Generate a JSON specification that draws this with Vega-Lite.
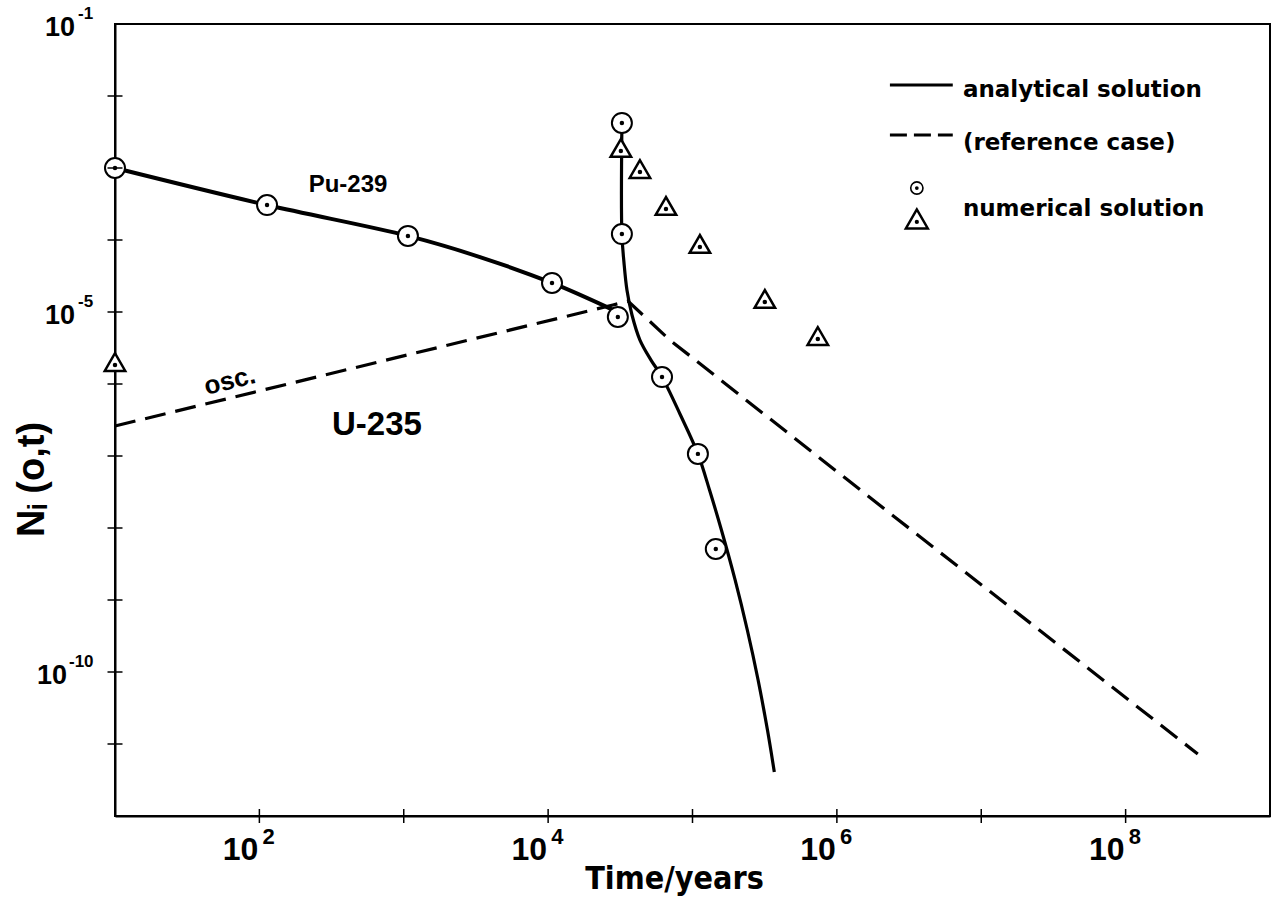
{
  "$schema": "https://vega.github.io/schema/vega-lite/v6.json",
  "width": 1155,
  "height": 792,
  "autosize": {"type": "none"},
  "padding": {"left": 115, "top": 24, "right": 10, "bottom": 83},
  "background": "white",
  "config": {
    "view": {"stroke": "black", "strokeWidth": 2},
    "font": "Liberation Sans",
    "axisX": {
      "labels": false, "ticks": false, "grid": false,
      "domainColor": "black", "domainWidth": 2, "zindex": 1,
      "titleFont": "Liberation Sans Narrow, DejaVu Sans Condensed, sans-serif",
      "titleFontSize": 32, "titleFontWeight": "bold", "titleColor": "black",
      "titleX": 559, "titleY": 72, "titleBaseline": "alphabetic", "titleAlign": "center"
    },
    "axisY": {
      "labels": false, "ticks": false, "grid": false,
      "domainColor": "black", "domainWidth": 2, "zindex": 1,
      "titleFont": "Liberation Sans, DejaVu Sans, sans-serif",
      "titleFontSize": 38, "titleFontWeight": "bold", "titleColor": "black",
      "titleAngle": 270, "titleX": -72, "titleY": 455,
      "titleBaseline": "alphabetic", "titleAlign": "center"
    }
  },
  "datasets": {
    "pu239": [
      {"i": 1, "t": 10, "n": 1.0e-3},
      {"i": 2, "t": 113, "n": 3.06e-4},
      {"i": 3, "t": 1069, "n": 1.14e-4},
      {"i": 4, "t": 3373, "n": 5.80e-5},
      {"i": 5, "t": 10640, "n": 2.53e-5},
      {"i": 6, "t": 28100, "n": 1.07e-5}
    ],
    "steep": [
      {"i": 1, "t": 32430, "n": 3.96e-3},
      {"i": 2, "t": 32430, "n": 1.21e-4},
      {"i": 3, "t": 33500, "n": 4.95e-5},
      {"i": 4, "t": 35150, "n": 2.02e-5},
      {"i": 5, "t": 38100, "n": 9.08e-6},
      {"i": 6, "t": 43250, "n": 4.08e-6},
      {"i": 7, "t": 51600, "n": 2.15e-6},
      {"i": 8, "t": 61500, "n": 1.25e-6},
      {"i": 9, "t": 81900, "n": 3.83e-7},
      {"i": 10, "t": 109000, "n": 1.07e-7},
      {"i": 11, "t": 131200, "n": 3.37e-8},
      {"i": 12, "t": 158600, "n": 9.38e-9},
      {"i": 13, "t": 197300, "n": 1.90e-9},
      {"i": 14, "t": 239700, "n": 3.83e-10},
      {"i": 15, "t": 284700, "n": 7.74e-11},
      {"i": 16, "t": 330600, "n": 1.56e-11},
      {"i": 17, "t": 368700, "n": 4.08e-12}
    ],
    "u235": [
      {"i": 1, "t": 10, "n": 2.61e-7},
      {"i": 2, "t": 28100, "n": 1.25e-5},
      {"i": 3, "t": 35700, "n": 1.42e-5},
      {"i": 4, "t": 69700, "n": 4.08e-6},
      {"i": 5, "t": 2180000, "n": 1.78e-8},
      {"i": 6, "t": 316000000, "n": 7.26e-12}
    ],
    "circles": [
      {"t": 10, "n": 1.0e-3},
      {"t": 113, "n": 3.06e-4},
      {"t": 1069, "n": 1.14e-4},
      {"t": 10640, "n": 2.53e-5},
      {"t": 30400, "n": 8.53e-6},
      {"t": 32430, "n": 4.22e-3},
      {"t": 32430, "n": 1.21e-4},
      {"t": 61500, "n": 1.25e-6},
      {"t": 109000, "n": 1.07e-7},
      {"t": 145000, "n": 5.11e-9}
    ],
    "triangles": [
      {"t": 10, "n": 2.02e-6},
      {"t": 31900, "n": 1.90e-3},
      {"t": 43250, "n": 9.68e-4},
      {"t": 65500, "n": 2.97e-4},
      {"t": 112500, "n": 8.80e-5},
      {"t": 317000, "n": 1.52e-5},
      {"t": 738000, "n": 4.64e-6}
    ],
    "xticks": [
      {"t": 1e2}, {"t": 1e3}, {"t": 1e4}, {"t": 1e5}, {"t": 1e6}, {"t": 1e7}, {"t": 1e8}
    ],
    "yticks": [
      {"n": 1e-2}, {"n": 1e-3}, {"n": 1e-4}, {"n": 1e-5}, {"n": 1e-6},
      {"n": 1e-7}, {"n": 1e-8}, {"n": 1e-9}, {"n": 1e-10}, {"n": 1e-11}
    ],
    "xlabels": [
      {"t": 1e2, "e": "2"}, {"t": 1e4, "e": "4"}, {"t": 1e6, "e": "6"}, {"t": 1e8, "e": "8"}
    ],
    "ylabels": [
      {"n": 1e-1, "e": "-1"}, {"n": 1e-5, "e": "-5"}, {"n": 1e-10, "e": "-10"}
    ]
  },
  "layer": [
    {
      "data": {"name": "u235"},
      "mark": {"type": "line", "color": "black", "strokeWidth": 3.2, "strokeDash": [21, 10], "clip": false},
      "encoding": {
        "x": {"field": "t", "type": "quantitative", "title": "Time/years", "scale": {"type": "log", "domain": [10, 1e9], "nice": false}},
        "y": {"field": "n", "type": "quantitative", "title": "Nᵢ (o,t)", "scale": {"type": "log", "domain": [1e-12, 1e-1], "nice": false}},
        "order": {"field": "i", "type": "quantitative"}
      }
    },
    {
      "data": {"name": "pu239"},
      "mark": {"type": "line", "color": "black", "strokeWidth": 4, "interpolate": "catmull-rom", "clip": false},
      "encoding": {
        "x": {"field": "t", "type": "quantitative", "title": "Time/years"},
        "y": {"field": "n", "type": "quantitative", "title": "Nᵢ (o,t)"},
        "order": {"field": "i", "type": "quantitative"}
      }
    },
    {
      "data": {"name": "steep"},
      "mark": {"type": "line", "color": "black", "strokeWidth": 3.2, "interpolate": "catmull-rom", "clip": false},
      "encoding": {
        "x": {"field": "t", "type": "quantitative", "title": "Time/years"},
        "y": {"field": "n", "type": "quantitative", "title": "Nᵢ (o,t)"},
        "order": {"field": "i", "type": "quantitative"}
      }
    },
    {
      "data": {"name": "circles"},
      "mark": {"type": "point", "shape": "circle", "size": 400, "filled": true, "fill": "white",
               "stroke": "black", "strokeWidth": 2, "opacity": 1, "clip": false},
      "encoding": {
        "x": {"field": "t", "type": "quantitative", "title": "Time/years"},
        "y": {"field": "n", "type": "quantitative", "title": "Nᵢ (o,t)"}
      }
    },
    {
      "data": {"name": "circles"},
      "mark": {"type": "point", "shape": "circle", "size": 20, "filled": true, "fill": "black",
               "opacity": 1, "clip": false},
      "encoding": {
        "x": {"field": "t", "type": "quantitative", "title": "Time/years"},
        "y": {"field": "n", "type": "quantitative", "title": "Nᵢ (o,t)"}
      }
    },
    {
      "data": {"name": "triangles"},
      "mark": {"type": "point", "shape": "triangle-up", "size": 420, "filled": true, "fill": "white",
               "stroke": "black", "strokeWidth": 2.5, "opacity": 1, "clip": false},
      "encoding": {
        "x": {"field": "t", "type": "quantitative", "title": "Time/years"},
        "y": {"field": "n", "type": "quantitative", "title": "Nᵢ (o,t)"}
      }
    },
    {
      "data": {"name": "triangles"},
      "mark": {"type": "point", "shape": "circle", "size": 20, "filled": true, "fill": "black",
               "opacity": 1, "yOffset": 3, "clip": false},
      "encoding": {
        "x": {"field": "t", "type": "quantitative", "title": "Time/years"},
        "y": {"field": "n", "type": "quantitative", "title": "Nᵢ (o,t)"}
      }
    },
    {
      "data": {"name": "xticks"},
      "mark": {"type": "tick", "orient": "vertical", "size": 14, "thickness": 1.5, "color": "black", "opacity": 1, "clip": false},
      "encoding": {
        "x": {"field": "t", "type": "quantitative", "title": "Time/years"},
        "y": {"datum": 1e-12, "type": "quantitative", "title": "Nᵢ (o,t)"}
      }
    },
    {
      "data": {"name": "yticks"},
      "mark": {"type": "tick", "orient": "horizontal", "size": 15, "thickness": 1.5, "color": "black", "opacity": 1, "clip": false},
      "encoding": {
        "x": {"datum": 10, "type": "quantitative", "title": "Time/years"},
        "y": {"field": "n", "type": "quantitative", "title": "Nᵢ (o,t)"}
      }
    },
    {
      "data": {"name": "xlabels"},
      "mark": {"type": "text", "text": "10", "fontWeight": "bold", "fontSize": 32, "align": "right",
               "baseline": "alphabetic", "dx": -1, "dy": 44, "color": "black", "clip": false},
      "encoding": {
        "x": {"field": "t", "type": "quantitative", "title": "Time/years"},
        "y": {"datum": 1e-12, "type": "quantitative", "title": "Nᵢ (o,t)"}
      }
    },
    {
      "data": {"name": "xlabels"},
      "mark": {"type": "text", "fontWeight": "bold", "fontSize": 22, "align": "left",
               "baseline": "alphabetic", "dx": 3, "dy": 28, "color": "black", "clip": false},
      "encoding": {
        "x": {"field": "t", "type": "quantitative", "title": "Time/years"},
        "y": {"datum": 1e-12, "type": "quantitative", "title": "Nᵢ (o,t)"},
        "text": {"field": "e"}
      }
    },
    {
      "data": {"name": "ylabels"},
      "transform": [{"filter": "length(datum.e) == 2"}],
      "mark": {"type": "text", "text": "10", "fontWeight": "bold", "fontSize": 27, "align": "right",
               "baseline": "alphabetic", "dx": -40, "dy": 12, "color": "black", "clip": false},
      "encoding": {
        "x": {"datum": 10, "type": "quantitative", "title": "Time/years"},
        "y": {"field": "n", "type": "quantitative", "title": "Nᵢ (o,t)"}
      }
    },
    {
      "data": {"name": "ylabels"},
      "transform": [{"filter": "length(datum.e) == 2"}],
      "mark": {"type": "text", "fontWeight": "bold", "fontSize": 17, "align": "left",
               "baseline": "alphabetic", "dx": -37, "dy": -5, "color": "black", "clip": false},
      "encoding": {
        "x": {"datum": 10, "type": "quantitative", "title": "Time/years"},
        "y": {"field": "n", "type": "quantitative", "title": "Nᵢ (o,t)"},
        "text": {"field": "e"}
      }
    },
    {
      "data": {"name": "ylabels"},
      "transform": [{"filter": "length(datum.e) == 3"}],
      "mark": {"type": "text", "text": "10", "fontWeight": "bold", "fontSize": 27, "align": "right",
               "baseline": "alphabetic", "dx": -48, "dy": 12, "color": "black", "clip": false},
      "encoding": {
        "x": {"datum": 10, "type": "quantitative", "title": "Time/years"},
        "y": {"field": "n", "type": "quantitative", "title": "Nᵢ (o,t)"}
      }
    },
    {
      "data": {"name": "ylabels"},
      "transform": [{"filter": "length(datum.e) == 3"}],
      "mark": {"type": "text", "fontWeight": "bold", "fontSize": 17, "align": "left",
               "baseline": "alphabetic", "dx": -46, "dy": -5, "color": "black", "clip": false},
      "encoding": {
        "x": {"datum": 10, "type": "quantitative", "title": "Time/years"},
        "y": {"field": "n", "type": "quantitative", "title": "Nᵢ (o,t)"},
        "text": {"field": "e"}
      }
    },
    {
      "data": {"values": [{"t": 411, "n": 4.6e-4, "label": "Pu-239"}]},
      "mark": {"type": "text", "fontWeight": "bold", "fontSize": 24, "align": "center",
               "baseline": "alphabetic", "color": "black"},
      "encoding": {
        "x": {"field": "t", "type": "quantitative", "title": "Time/years"},
        "y": {"field": "n", "type": "quantitative", "title": "Nᵢ (o,t)"},
        "text": {"field": "label"}
      }
    },
    {
      "data": {"values": [{"t": 652, "n": 1.96e-7, "label": "U-235"}]},
      "mark": {"type": "text", "fontWeight": "bold", "fontSize": 33, "align": "center",
               "baseline": "alphabetic", "color": "black"},
      "encoding": {
        "x": {"field": "t", "type": "quantitative", "title": "Time/years"},
        "y": {"field": "n", "type": "quantitative", "title": "Nᵢ (o,t)"},
        "text": {"field": "label"}
      }
    },
    {
      "data": {"values": [{"t": 62.5, "n": 1.10e-6, "label": "osc."}]},
      "mark": {"type": "text", "fontWeight": "bold", "fontSize": 26, "align": "center",
               "baseline": "middle", "angle": 346, "color": "black"},
      "encoding": {
        "x": {"field": "t", "type": "quantitative", "title": "Time/years"},
        "y": {"field": "n", "type": "quantitative", "title": "Nᵢ (o,t)"},
        "text": {"field": "label"}
      }
    },
    {
      "data": {"values": [{"t": 2330000, "t2": 6350000, "n": 1.42e-2}]},
      "mark": {"type": "rule", "color": "black", "strokeWidth": 3},
      "encoding": {
        "x": {"field": "t", "type": "quantitative", "title": "Time/years"},
        "x2": {"field": "t2"},
        "y": {"field": "n", "type": "quantitative", "title": "Nᵢ (o,t)"}
      }
    },
    {
      "data": {"values": [{"t": 2330000, "t2": 6350000, "n": 2.87e-3}]},
      "mark": {"type": "rule", "color": "black", "strokeWidth": 3, "strokeDash": [17, 7]},
      "encoding": {
        "x": {"field": "t", "type": "quantitative", "title": "Time/years"},
        "x2": {"field": "t2"},
        "y": {"field": "n", "type": "quantitative", "title": "Nᵢ (o,t)"}
      }
    },
    {
      "data": {"values": [{"t": 3580000, "n": 5.27e-4}]},
      "mark": {"type": "point", "shape": "circle", "size": 150, "filled": true, "fill": "white",
               "stroke": "black", "strokeWidth": 1.6, "opacity": 1},
      "encoding": {
        "x": {"field": "t", "type": "quantitative", "title": "Time/years"},
        "y": {"field": "n", "type": "quantitative", "title": "Nᵢ (o,t)"}
      }
    },
    {
      "data": {"values": [{"t": 3580000, "n": 5.27e-4}]},
      "mark": {"type": "point", "shape": "circle", "size": 14, "filled": true, "fill": "black", "opacity": 1},
      "encoding": {
        "x": {"field": "t", "type": "quantitative", "title": "Time/years"},
        "y": {"field": "n", "type": "quantitative", "title": "Nᵢ (o,t)"}
      }
    },
    {
      "data": {"values": [{"t": 3580000, "n": 1.96e-4}]},
      "mark": {"type": "point", "shape": "triangle-up", "size": 480, "filled": true, "fill": "white",
               "stroke": "black", "strokeWidth": 2.5, "opacity": 1},
      "encoding": {
        "x": {"field": "t", "type": "quantitative", "title": "Time/years"},
        "y": {"field": "n", "type": "quantitative", "title": "Nᵢ (o,t)"}
      }
    },
    {
      "data": {"values": [{"t": 3580000, "n": 1.96e-4}]},
      "mark": {"type": "point", "shape": "circle", "size": 18, "filled": true, "fill": "black",
               "opacity": 1, "yOffset": 3},
      "encoding": {
        "x": {"field": "t", "type": "quantitative", "title": "Time/years"},
        "y": {"field": "n", "type": "quantitative", "title": "Nᵢ (o,t)"}
      }
    },
    {
      "data": {"values": [
        {"t": 7460000, "n": 9.68e-3, "label": "analytical solution"},
        {"t": 7460000, "n": 1.78e-3, "label": "(reference case)"},
        {"t": 7460000, "n": 2.15e-4, "label": "numerical solution"}
      ]},
      "mark": {"type": "text", "font": "DejaVu Sans, sans-serif", "fontWeight": "bold", "fontSize": 23,
               "align": "left", "baseline": "alphabetic", "color": "black"},
      "encoding": {
        "x": {"field": "t", "type": "quantitative", "title": "Time/years"},
        "y": {"field": "n", "type": "quantitative", "title": "Nᵢ (o,t)"},
        "text": {"field": "label"}
      }
    }
  ]
}
